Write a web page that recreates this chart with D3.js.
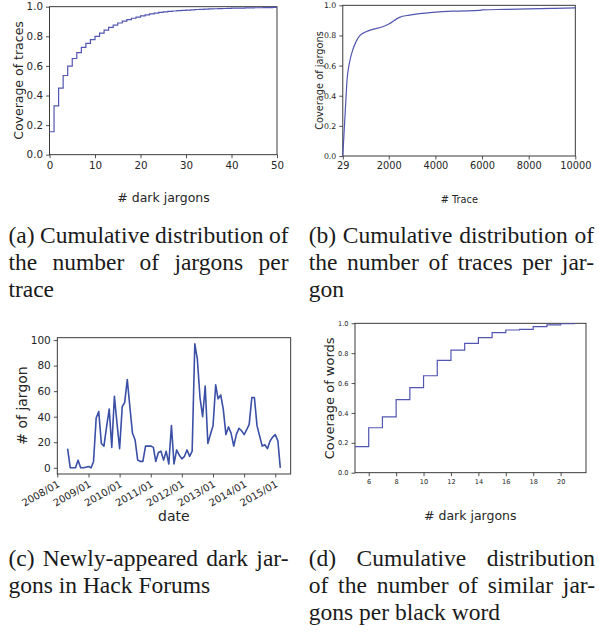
<!DOCTYPE html>
<html lang="en">
<head>
<meta charset="utf-8">
<title>Dark jargon figures</title>
<script src="https://d3js.org/d3.v7.min.js"></script>
<style>
  body { margin: 0; background: #fff; }
  text { font-family: "DejaVu Sans", sans-serif; fill: #262626; }
  .cap { font-family: "Liberation Serif", "Times New Roman", serif; fill: #1a1a1a; }
</style>
</head>
<body>
<div id="fig"></div>
<script>
// (a) coverage of traces by number of dark jargons (step cdf, x = 0..49)
var aJargons = d3.range(0, 50);
var aCoverage = [0.155, 0.33, 0.45, 0.535, 0.598, 0.65, 0.69, 0.725, 0.752, 0.778,
  0.80, 0.822, 0.842, 0.86, 0.875, 0.89, 0.903, 0.913, 0.922, 0.93,
  0.938, 0.945, 0.951, 0.956, 0.961, 0.965, 0.968, 0.971, 0.973, 0.975,
  0.977, 0.979, 0.981, 0.982, 0.984, 0.985, 0.986, 0.987, 0.988, 0.989,
  0.990, 0.990, 0.991, 0.992, 0.992, 0.993, 0.993, 0.994, 0.994, 0.995];

// (b) coverage of jargons by number of traces
var bTraces = [29, 82, 138, 211, 310, 452, 598, 740, 1028, 1312, 1742, 2000, 2460, 2890, 3320, 3750, 4000, 5000, 5900, 6000, 7000, 8000, 9000, 10000];
var bCoverage = [0, 0.15, 0.305, 0.504, 0.615, 0.703, 0.759, 0.796, 0.825, 0.84, 0.858, 0.876, 0.92, 0.935, 0.945, 0.951, 0.955, 0.962, 0.966, 0.97, 0.973, 0.976, 0.979, 0.983];

// (c) newly-appeared dark jargons per month
var cMonths = [
  "2008-05", "2008-06", "2008-07", "2008-08", "2008-09", "2008-10", "2008-11", "2008-12",
  "2009-01", "2009-02", "2009-03", "2009-04", "2009-05", "2009-06", "2009-07", "2009-08", "2009-09", "2009-10", "2009-11", "2009-12",
  "2010-01", "2010-02", "2010-03", "2010-04", "2010-05", "2010-06", "2010-07", "2010-08", "2010-09", "2010-10", "2010-11", "2010-12",
  "2011-01", "2011-02", "2011-03", "2011-04", "2011-05", "2011-06", "2011-07", "2011-08", "2011-09", "2011-10", "2011-11", "2011-12",
  "2012-01", "2012-02", "2012-03", "2012-04", "2012-05", "2012-06", "2012-07", "2012-08", "2012-09", "2012-10", "2012-11", "2012-12",
  "2013-01", "2013-02", "2013-03", "2013-04", "2013-05", "2013-06", "2013-07", "2013-08", "2013-09", "2013-10", "2013-11", "2013-12",
  "2014-01", "2014-02", "2014-03", "2014-04", "2014-05", "2014-06", "2014-07", "2014-08", "2014-09", "2014-10", "2014-11", "2014-12",
  "2015-01", "2015-02", "2015-03"];
var cCounts = [
  15, 0, 0, 0, 6, 0, 0, 0.5,
  1, 0, 5, 39, 44, 19, 17, 32, 46, 16, 56, 35,
  15, 48, 51, 69, 48, 27, 22, 6, 5, 5, 17, 17,
  17, 16, 5, 12, 13, 6, 13, 3, 33, 3, 14, 10,
  7, 9, 14, 9, 13, 97, 85, 55, 40, 64, 19, 26,
  33, 65, 54, 57, 46, 26, 32, 27, 17, 26, 31, 29,
  26, 30, 34, 55, 55, 33, 25, 17, 18, 15, 21, 24,
  26, 21, 0];
var cYearTicks = ["2008-01", "2009-01", "2010-01", "2011-01", "2012-01", "2013-01", "2014-01", "2015-01"];

// (d) coverage of black words by number of similar jargons
var dJargons = [5, 6, 7, 8, 9, 10, 11, 12, 13, 14, 15, 16, 17, 18, 19, 20, 21];
var dCoverage = [0.174, 0.301, 0.373, 0.489, 0.569, 0.649, 0.752, 0.821, 0.866, 0.904, 0.937, 0.955, 0.96, 0.978, 0.99, 0.997, 1.0];

var capA = ["(a) Cumulative distribution of", "the number of jargons per", "trace"];
var capB = ["(b) Cumulative distribution of", "the number of traces per jar-", "gon"];
var capC = ["(c) Newly-appeared dark jar-", "gons in Hack Forums"];
var capD = ["(d) Cumulative distribution", "of the number of similar jar-", "gons per black word"];

var w = 599, h = 632;
var lineCol = "#5256b0";
var lineColC = "#3a4fa6";

var svg = d3.select("#fig").append("svg")
  .attr("width", w)
  .attr("height", h);

var parseMonth = d3.timeParse("%Y-%m");

// frame + axes for one panel
function frame(x, y, xAxis, yAxis, fx, fy) {
  var g = svg.append("g");
  var x0 = x.range()[0], x1 = x.range()[1];
  var y0 = y.range()[0], y1 = y.range()[1];
  var gx = g.append("g")
    .attr("transform", "translate(0," + y0 + ")")
    .call(xAxis.tickSizeOuter(0).tickSize(3.5).tickPadding(3));
  var gy = g.append("g")
    .attr("transform", "translate(" + x0 + ",0)")
    .call(yAxis.tickSizeOuter(0).tickSize(3.5).tickPadding(3));
  g.selectAll(".domain").remove();
  g.selectAll(".tick line").attr("stroke", "#262626").attr("stroke-width", 0.8);
  gx.selectAll("text").style("font-size", fx + "px").attr("fill", "#262626");
  gy.selectAll("text").style("font-size", fy + "px").attr("fill", "#262626");
  g.append("rect")
    .attr("x", x0).attr("y", y1)
    .attr("width", x1 - x0).attr("height", y0 - y1)
    .attr("fill", "none")
    .attr("stroke", "#262626")
    .attr("stroke-width", 0.9);
  return { g: g, gx: gx, gy: gy };
}

function ylabel(txt, cx, cy, size) {
  svg.append("text")
    .attr("transform", "translate(" + cx + "," + cy + ") rotate(-90)")
    .attr("text-anchor", "middle")
    .attr("dominant-baseline", "central")
    .style("font-size", size + "px")
    .text(txt);
}

function xlabel(txt, cx, by, size) {
  svg.append("text")
    .attr("x", cx).attr("y", by)
    .attr("text-anchor", "middle")
    .style("font-size", size + "px")
    .text(txt);
}

// ---- (a)
var xA = d3.scaleLinear().domain([0, 50]).range([49.5, 277]);
var yA = d3.scaleLinear().domain([0, 1]).range([154.7, 6.7]);
frame(xA, yA,
  d3.axisBottom(xA).tickValues([0, 10, 20, 30, 40, 50]),
  d3.axisLeft(yA).tickValues([0, 0.2, 0.4, 0.6, 0.8, 1]).tickFormat(d3.format(".1f")), 10.3, 10.3);
var aPts = aJargons.map(function(d, i) { return [d, aCoverage[i]]; });
aPts.push([50, aCoverage[aCoverage.length - 1]]);
svg.append("path")
  .datum(aPts)
  .attr("fill", "none")
  .attr("stroke", lineCol)
  .attr("stroke-width", 1.2)
  .attr("d", d3.line().x(d => xA(d[0])).y(d => yA(d[1])).curve(d3.curveStepAfter));
ylabel("Coverage of traces", 18.5, 80.5, 12.5);
xlabel("# dark jargons", 163.5, 201.5, 12.5);

// ---- (b)
var xB = d3.scaleLinear().domain([29, 10000]).range([342.8, 575.3]);
var yB = d3.scaleLinear().domain([0, 1]).range([156, 5.3]);
frame(xB, yB,
  d3.axisBottom(xB).tickValues([29, 2000, 4000, 6000, 8000, 10000]).tickFormat(d3.format("d")),
  d3.axisLeft(yB).tickValues([0, 0.2, 0.4, 0.6, 0.8, 1]).tickFormat(d3.format(".1f")), 9.8, 7.8);
svg.append("path")
  .datum(bTraces.map(function(d, i) { return [d, bCoverage[i]]; }))
  .attr("fill", "none")
  .attr("stroke", lineCol)
  .attr("stroke-width", 1.2)
  .attr("d", d3.line().x(d => xB(d[0])).y(d => yB(d[1])).curve(d3.curveMonotoneX));
ylabel("Coverage of jargons", 319, 80.5, 9.8);
xlabel("# Trace", 459.3, 202.5, 9.8);

// ---- (c)
var xC = d3.scaleTime().domain([new Date(2008, 0, 1), new Date(2015, 6, 1)]).range([57.3, 290.7]);
var yC = d3.scaleLinear().domain([-4.85, 101.85]).range([474, 337.7]);
var pC = frame(xC, yC,
  d3.axisBottom(xC).tickValues(cYearTicks.map(parseMonth)).tickFormat(d3.timeFormat("%Y/%m")),
  d3.axisLeft(yC).tickValues([0, 20, 40, 60, 80, 100]), 10, 10.5);
pC.gx.selectAll("text")
  .attr("text-anchor", "end")
  .attr("y", 0)
  .attr("dy", "0.35em")
  .attr("transform", "translate(1,9) rotate(-30)");
svg.append("path")
  .datum(cMonths.map(function(d, i) { return [parseMonth(d), cCounts[i]]; }))
  .attr("fill", "none")
  .attr("stroke", lineColC)
  .attr("stroke-width", 1.6)
  .attr("stroke-linejoin", "round")
  .attr("d", d3.line().x(d => xC(d[0])).y(d => yC(d[1])));
ylabel("# of jargon", 22, 405.5, 14);
xlabel("date", 173.8, 521, 14);

// ---- (d)
var xD = d3.scaleLinear().domain([5, 21.85]).range([355, 586]);
var yD = d3.scaleLinear().domain([0, 1]).range([472.7, 323.3]);
frame(xD, yD,
  d3.axisBottom(xD).tickValues([6, 8, 10, 12, 14, 16, 18, 20]),
  d3.axisLeft(yD).tickValues([0, 0.2, 0.4, 0.6, 0.8, 1]).tickFormat(d3.format(".1f")), 6.6, 6.6);
svg.append("path")
  .datum(dJargons.map(function(d, i) { return [d, dCoverage[i]]; }))
  .attr("fill", "none")
  .attr("stroke", lineCol)
  .attr("stroke-width", 1.2)
  .attr("d", d3.line().x(d => xD(d[0])).y(d => yD(d[1])).curve(d3.curveStepAfter));
ylabel("Coverage of words", 329, 398.3, 13);
xlabel("# dark jargons", 470.3, 519.5, 12.5);

// ---- captions, justified like the paper's columns
function caption(lines, x0, x1, y, lead) {
  lines.forEach(function(line, li) {
    var words = line.split(" ");
    var by = y + li * lead;
    var nodes = words.map(function(wd) {
      return svg.append("text").attr("class", "cap")
        .attr("y", by)
        .style("font-size", "23.5px")
        .text(wd);
    });
    var widths = nodes.map(n => n.node().getComputedTextLength());
    var total = d3.sum(widths);
    var last = li === lines.length - 1;
    var gap = (!last && words.length > 1) ? (x1 - x0 - total) / (words.length - 1) : 5.9;
    var cx = x0;
    nodes.forEach(function(n, i) {
      n.attr("x", cx);
      cx += widths[i] + gap;
    });
  });
}
caption(capA, 8.4, 288.5, 243, 27);
caption(capB, 308.7, 594, 243, 27);
caption(capC, 8.4, 288.5, 566, 27);
caption(capD, 308.7, 595, 566, 27);
</script>
</body>
</html>
